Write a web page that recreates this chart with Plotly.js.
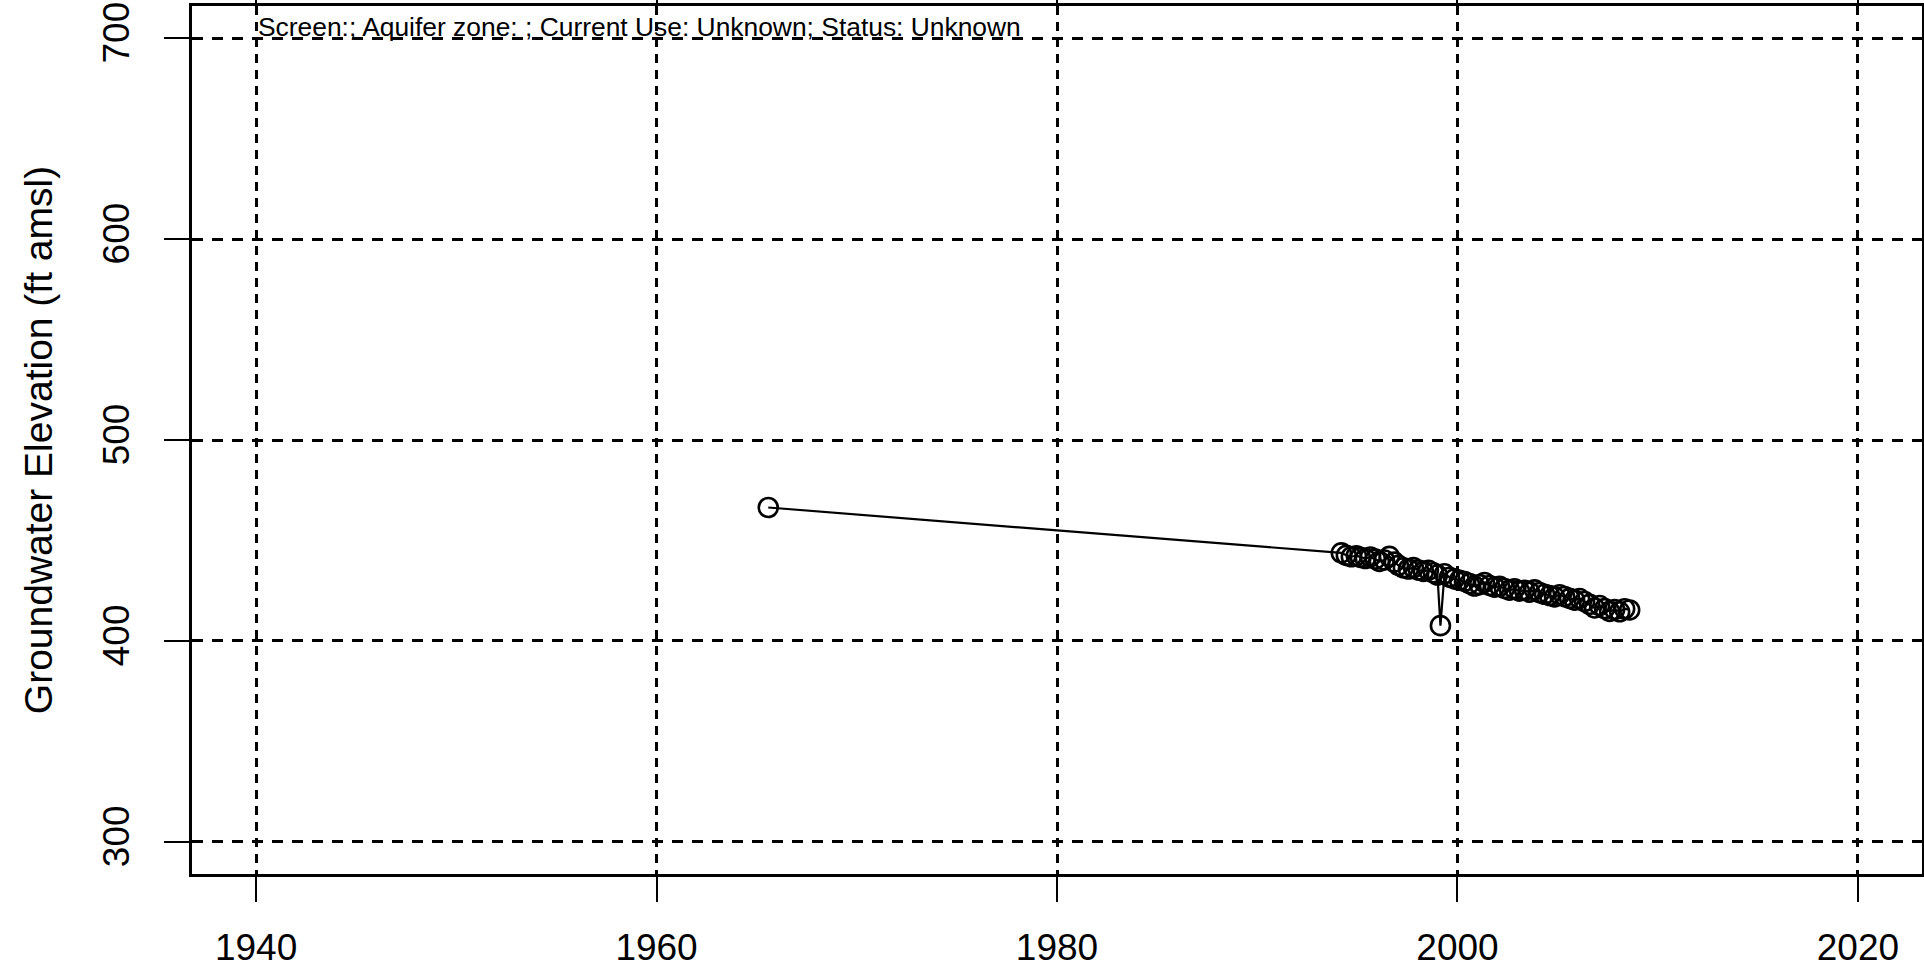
<!DOCTYPE html>
<html>
<head>
<meta charset="utf-8">
<script src="https://cdn.plot.ly/plotly-3.0.1.min.js"></script>
<style>
  html, body { margin: 0; padding: 0; background: #ffffff; }
  #chart { width: 1924px; height: 972px; }
</style>
</head>
<body>
<div id="chart"></div>
<script>
// Groundwater elevation record (decimal year, ft above mean sea level)
const years = [
  1965.58,
  1994.20, 1994.45, 1994.70, 1994.95, 1995.15, 1995.40, 1995.65, 1995.90,
  1996.10, 1996.35, 1996.60, 1996.85, 1997.05, 1997.30, 1997.55, 1997.80,
  1998.05, 1998.30, 1998.55, 1998.80, 1999.00, 1999.15, 1999.35, 1999.60,
  1999.85, 2000.10, 2000.35, 2000.60, 2000.85, 2001.10, 2001.35, 2001.60,
  2001.85, 2002.10, 2002.35, 2002.60, 2002.85, 2003.10, 2003.35, 2003.60,
  2003.85, 2004.10, 2004.35, 2004.60, 2004.85, 2005.10, 2005.35, 2005.60,
  2005.85, 2006.10, 2006.35, 2006.60, 2006.85, 2007.10, 2007.35, 2007.60,
  2007.85, 2008.10, 2008.35, 2008.60
];
const elevation = [
  466.4,
  443.8, 442.6, 441.9, 442.4, 441.6, 441.0, 441.8, 440.7,
  439.6, 440.3, 442.1, 439.2, 437.6, 436.4, 435.8, 436.5,
  435.3, 434.6, 435.2, 433.9, 432.8, 407.6, 433.4, 431.7,
  430.9, 430.2, 429.6, 428.5, 427.3, 428.0, 429.1, 427.6,
  426.8, 427.2, 426.1, 425.3, 425.9, 424.8, 425.2, 424.3,
  425.4, 424.1, 423.2, 422.6, 421.9, 423.0, 422.1, 421.2,
  420.3, 421.1, 419.6, 418.2, 416.4, 417.6, 416.1, 414.7,
  415.6, 414.5, 416.0, 415.4
];

const xTicks = [1940, 1960, 1980, 2000, 2020];
const yTicks = [300, 400, 500, 600, 700];
const yTitle = 'Groundwater Elevation (ft amsl)';
const wellInfo = 'Screen:; Aquifer zone: ; Current Use: Unknown; Status: Unknown';

const FONT = '"Liberation Sans", Arial, Helvetica, sans-serif';

const trace = {
  type: 'scatter',
  mode: 'lines+markers',
  x: years,
  y: elevation,
  line: { color: '#000000', width: 2.2 },
  marker: {
    symbol: 'circle-open',
    size: 19,
    color: '#000000',
    line: { color: '#000000', width: 2.6 }
  },
  hoverinfo: 'x+y',
  showlegend: false
};

// axis limits padded by 4% on each side
const xPad = (xTicks[xTicks.length - 1] - xTicks[0]) * 0.04;
const yPad = (yTicks[yTicks.length - 1] - yTicks[0]) * 0.04;

const layout = {
  width: 1924,
  height: 972,
  paper_bgcolor: '#ffffff',
  plot_bgcolor: '#ffffff',
  margin: { l: 192, r: 2, t: 6, b: 98, pad: 0 },
  font: { family: FONT, color: '#000000' },
  showlegend: false,
  xaxis: {
    range: [xTicks[0] - xPad, xTicks[xTicks.length - 1] + xPad],
    tickmode: 'array',
    tickvals: xTicks,
    ticktext: xTicks.map(String),
    ticks: 'outside',
    ticklen: 25,
    tickwidth: 2,
    tickcolor: '#000000',
    ticklabelstandoff: 14,
    tickfont: { family: FONT, size: 37, color: '#000000' },
    showgrid: true,
    gridcolor: '#000000',
    gridwidth: 2.5,
    griddash: '9px,7px',
    zeroline: false,
    showline: true,
    linecolor: '#000000',
    linewidth: 3,
    mirror: 'all',
    automargin: false
  },
  yaxis: {
    range: [yTicks[0] - yPad, yTicks[yTicks.length - 1] + yPad],
    tickmode: 'array',
    tickvals: yTicks,
    ticktext: yTicks.map(String),
    tickangle: -90,
    ticks: 'outside',
    ticklen: 25,
    tickwidth: 2,
    tickcolor: '#000000',
    ticklabelstandoff: 20,
    tickfont: { family: FONT, size: 37, color: '#000000' },
    showgrid: true,
    gridcolor: '#000000',
    gridwidth: 2.5,
    griddash: '11px,9px',
    zeroline: false,
    showline: true,
    linecolor: '#000000',
    linewidth: 3,
    mirror: 'all',
    automargin: false,
    title: {
      text: yTitle,
      font: { family: FONT, size: 39, color: '#000000' },
      standoff: 32
    }
  },
  annotations: [{
    x: xTicks[0],
    y: yTicks[yTicks.length - 1],
    xref: 'x',
    yref: 'y',
    text: wellInfo,
    showarrow: false,
    xanchor: 'left',
    yanchor: 'bottom',
    xshift: 0,
    yshift: -6,
    font: { family: FONT, size: 26.4, color: '#000000' }
  }]
};

Plotly.newPlot('chart', [trace], layout, { displayModeBar: false, staticPlot: false });
</script>
</body>
</html>
